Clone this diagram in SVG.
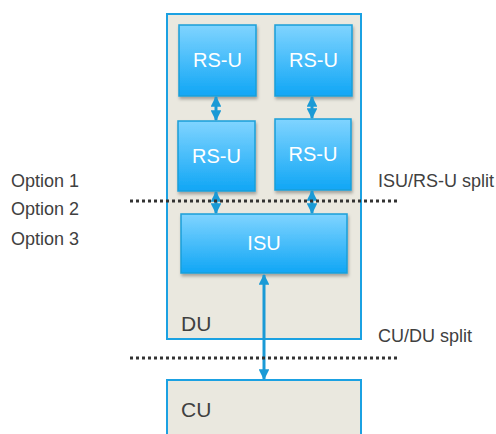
<svg xmlns="http://www.w3.org/2000/svg" width="496" height="434" viewBox="0 0 496 434">
<defs>
<linearGradient id="blue" x1="0" y1="0" x2="0" y2="1">
<stop offset="0" stop-color="#80d4ff"/>
<stop offset="1" stop-color="#10a6f5"/>
</linearGradient>
<filter id="sh" x="-20%" y="-20%" width="140%" height="150%">
<feDropShadow dx="1" dy="2.5" stdDeviation="1.5" flood-color="#000" flood-opacity="0.3"/>
</filter>
<marker id="ah" viewBox="0 0 10 10" refX="9" refY="5" markerWidth="3.6" markerHeight="3.6" orient="auto-start-reverse" markerUnits="strokeWidth">
<path d="M0,0 L10,5 L0,10 z" fill="#1a9ad6"/>
</marker>
</defs>
<style>
.cont{fill:#eae8df;stroke:#1ba1e2;stroke-width:2}
.box{fill:url(#blue);stroke:#1a9fd9;stroke-width:1.5;filter:url(#sh)}
.wt{font-family:"Liberation Sans",Arial,sans-serif;font-size:20px;fill:#fff;text-anchor:middle}
.lbl{font-family:"Liberation Sans",Arial,sans-serif;font-size:18px;fill:#404040}
.big{font-family:"Liberation Sans",Arial,sans-serif;font-size:21px;fill:#404040}
.arr{stroke:#1a9ad6;stroke-width:3;fill:none;marker-start:url(#ah);marker-end:url(#ah)}
.dot{stroke:#333;stroke-width:3;stroke-dasharray:3 3;fill:none}
</style>
<g id="DU">
<rect class="cont" x="167" y="14" width="194" height="325"/>
<text class="big" x="181" y="331">DU</text>
</g>
<g id="CU">
<rect class="cont" x="167" y="380" width="194" height="60"/>
<text class="big" x="181" y="417">CU</text>
</g>
<g id="rsu1">
<rect class="box" x="179" y="25" width="77" height="71"/>
<text class="wt" x="217.5" y="67">RS-U</text>
</g>
<g id="rsu2">
<rect class="box" x="275" y="25" width="77" height="71"/>
<text class="wt" x="313.5" y="67">RS-U</text>
</g>
<g id="rsu3">
<rect class="box" x="178" y="121" width="77" height="70"/>
<text class="wt" x="216.5" y="163">RS-U</text>
</g>
<g id="rsu4">
<rect class="box" x="275" y="119" width="76" height="71"/>
<text class="wt" x="313" y="161">RS-U</text>
</g>
<g id="ISU">
<rect class="box" x="181" y="214" width="166" height="59"/>
<text class="wt" x="264" y="250">ISU</text>
</g>
<g id="connectors">
<line class="arr" x1="216" y1="97" x2="216" y2="120"/>
<line class="arr" x1="312" y1="97" x2="312" y2="118"/>
<line class="arr" x1="216" y1="192" x2="216" y2="213"/>
<line class="arr" x1="312" y1="191" x2="312" y2="213"/>
<line class="arr" x1="264" y1="275" x2="264" y2="379"/>
<line class="dot" x1="130" y1="201" x2="398" y2="201"/>
<line class="dot" x1="130" y1="358" x2="400" y2="358"/>
</g>
<g id="labels">
<text class="lbl" x="11" y="187">Option 1</text>
<text class="lbl" x="11" y="215">Option 2</text>
<text class="lbl" x="11" y="245">Option 3</text>
<text class="lbl" x="378" y="187">ISU/RS-U split</text>
<text class="lbl" x="378" y="342">CU/DU split</text>
</g>
</svg>
